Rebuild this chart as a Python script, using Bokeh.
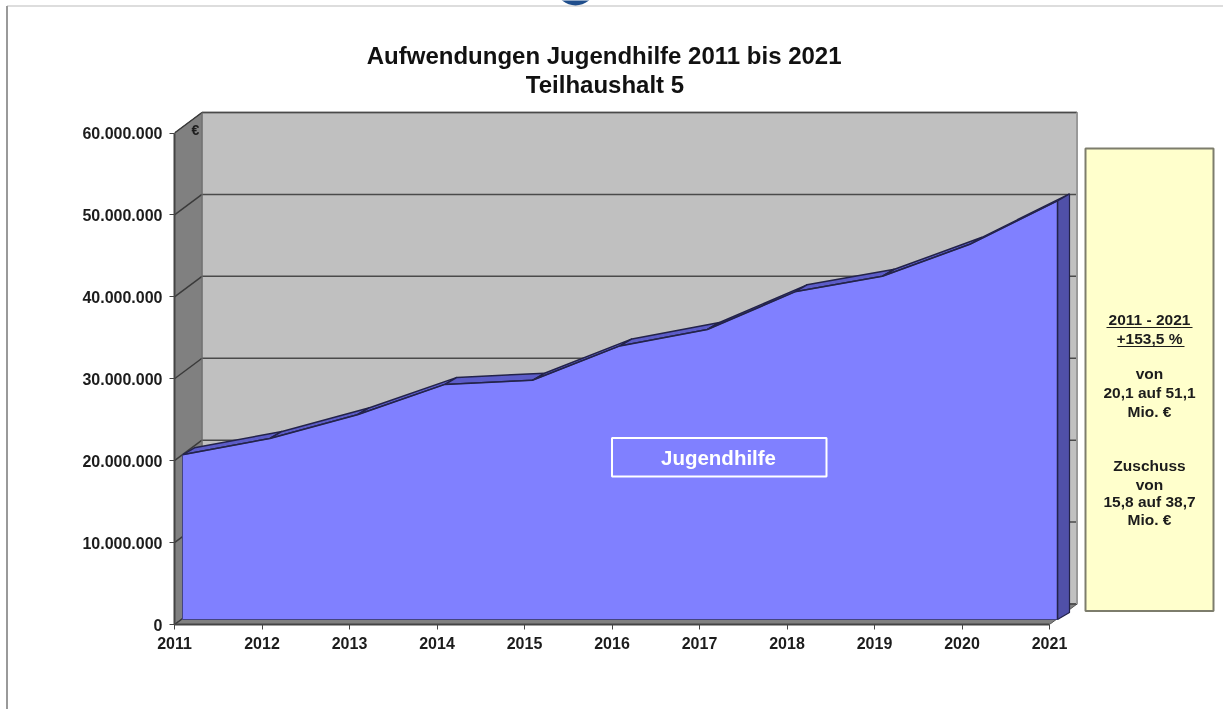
from bokeh.plotting import figure
from bokeh.embed import file_html
from bokeh.resources import INLINE
from bokeh.models import FixedTicker, Range1d
from bokeh.core.properties import value

years = [2011, 2012, 2013, 2014, 2015, 2016, 2017, 2018, 2019, 2020, 2021]
aufwendungen = [20.1e6, 22.1e6, 25.0e6, 28.7e6, 29.2e6, 33.4e6, 35.4e6, 40.0e6, 41.9e6, 45.8e6, 51.1e6]
y_ticks = [0, 10e6, 20e6, 30e6, 40e6, 50e6, 60e6]
y_labels = ["0", "10.000.000", "20.000.000", "30.000.000", "40.000.000", "50.000.000", "60.000.000"]
title_lines = ["Aufwendungen  Jugendhilfe 2011 bis 2021", "Teilhaushalt 5"]
series_name = "Jugendhilfe"
note_lines = ["2011 - 2021", "+153,5 %", "von", "20,1 auf 51,1", "Mio. €", "Zuschuss", "von", "15,8 auf 38,7", "Mio. €"]
note_ys = [319, 338, 373, 392, 411, 465, 484, 501, 519]

W, H = 1223, 709
X0, Y0 = 174, 624
PXY = 87.5
PXV = 491.5 / 60e6
FONT = value("Liberation Sans")
INK = "#1c1c1c"

def dx(px): return px / PXY
def dy(px): return px / PXV
def gx(px): return 2011 + (px - X0) / PXY
def gy(py): return (Y0 - py) / PXV

p = figure(width=W, height=H, output_backend="svg", toolbar_location=None,
           x_range=Range1d(2011, 2011 + (W - X0) / PXY), y_range=Range1d(0, Y0 / PXV),
           min_border_left=X0, min_border_right=0, min_border_top=0, min_border_bottom=H - Y0,
           outline_line_color=None, background_fill_color=None, border_fill_color=None)
p.styles = {
    "position": "absolute", "left": "0", "top": "0",
    "background": "linear-gradient(#9a9a9a,#9a9a9a) 6px 6px/2px 100% no-repeat,"
                  "linear-gradient(#dddddd,#dddddd) 7px 5px/100% 2px no-repeat,white",
    "filter": "blur(0.5px)",
}
p.grid.visible = False

for ax, ticks, labels, bounds in [(p.xaxis[0], years, [str(y) for y in years], (2011, 2021)),
                                  (p.yaxis[0], y_ticks, y_labels, (0, 60e6))]:
    ax.ticker = FixedTicker(ticks=ticks)
    ax.major_label_overrides = dict(zip(ticks, labels))
    ax.bounds = bounds
    ax.minor_tick_line_color = None
    ax.major_tick_in = 0
    ax.major_tick_out = 5
    ax.major_tick_line_color = "#444444"
    ax.axis_line_color = "#444444"
    ax.axis_line_width = 2
    ax.major_label_text_font = "Liberation Sans"
    ax.major_label_text_font_style = "bold"
    ax.major_label_text_font_size = "16px"
    ax.major_label_text_color = INK
    ax.major_label_standoff = 7

# 3D box
WX, WY = dx(27.5), dy(20.5)
p.patch([2011, 2011 + WX, 2011 + WX, 2011], [0, WY, 60e6 + WY, 60e6], fill_color="#808080", line_color="#555555", line_width=1)
p.patch([2011 + WX, 2021 + WX, 2021 + WX, 2011 + WX], [WY, WY, 60e6 + WY, 60e6 + WY], fill_color="#C0C0C0", line_color="#7a7a7a", line_width=1.5)
p.patch([2011, 2021, 2021 + WX, 2011 + WX], [0, 0, WY, WY], fill_color="#808080", line_color="#555555", line_width=1)
for t in y_ticks:
    p.line([2011, 2011 + WX], [t, t + WY], line_color="#3a3a3a", line_width=1.5)
    p.line([2011 + WX, 2021 + WX], [t + WY, t + WY], line_color="#4a4a4a", line_width=1.5)
p.line([2011 + WX, 2011 + WX], [WY, 60e6 + WY], line_color="#777777", line_width=1)
p.line([2021 + WX, 2021 + WX], [WY, 60e6 + WY], line_color="#999999", line_width=2)

# Area, front and extrusion
FX, FY = dx(8), dy(5)
RX, RY = dx(12), dy(7)
fxs = [y + FX for y in years]
fys = [v + FY for v in aufwendungen]
for i in range(len(years) - 1):
    p.patch([fxs[i], fxs[i + 1], fxs[i + 1] + RX, fxs[i] + RX],
            [fys[i], fys[i + 1], fys[i + 1] + RY, fys[i] + RY],
            fill_color="#5C5CC8", line_color="#23234a", line_width=1.5)
p.patch([fxs[-1], fxs[-1] + RX, fxs[-1] + RX, fxs[-1]], [FY, FY + RY, fys[-1] + RY, fys[-1]],
        fill_color="#5050A8", line_color="#23234a", line_width=1.2)
p.patch([fxs[0]] + fxs + [fxs[-1]], [FY] + fys + [FY], fill_color="#8080FF", line_color="#44447f", line_width=1)
p.line(fxs, fys, line_color="#23234a", line_width=1.5)
p.line([fxs[-1], fxs[-1]], [FY, fys[-1]], line_color="#23234a", line_width=1.5)

# Series label box
p.quad(left=gx(611.5), right=gx(826), top=gy(437.5), bottom=gy(476), fill_color=None, line_color="white", line_width=2)
p.text(gx(718), gy(457), text=[series_name], text_color="white", text_font=FONT, text_font_style="bold",
       text_font_size="20.5px", text_align="center", text_baseline="middle")

# Euro mark
p.text(gx(195), gy(129), text=["€"], text_color=INK, text_font=FONT, text_font_style="bold",
       text_font_size="14px", text_align="center", text_baseline="middle")

# Title
for line, px, py in zip(title_lines, [607, 604.5], [55, 84]):
    p.text(gx(px), gy(py), text=[line], text_color="#111111", text_font=FONT, text_font_style="bold",
           text_font_size="24px", text_align="center", text_baseline="middle")

# Note panel
p.quad(left=gx(1085), right=gx(1213), top=gy(148), bottom=gy(610.5), fill_color="#FFFFCC", line_color="#7d7d6c", line_width=2)
for line, py in zip(note_lines, note_ys):
    p.text(gx(1149), gy(py), text=[line], text_color=INK, text_font=FONT, text_font_style="bold",
           text_font_size="15.5px", text_align="center", text_baseline="middle")
p.line([gx(1106), gx(1192)], [gy(327)] * 2, line_color=INK, line_width=1.2)
p.line([gx(1117), gx(1184)], [gy(346)] * 2, line_color=INK, line_width=1.2)

# Page fragment of the surrounding screenshot
p.ellipse(gx(575), gy(-10), width=dx(36), height=dy(30), fill_color="#1F4E8C", line_color=None)

open("out.html", "w").write(file_html(p, INLINE))
